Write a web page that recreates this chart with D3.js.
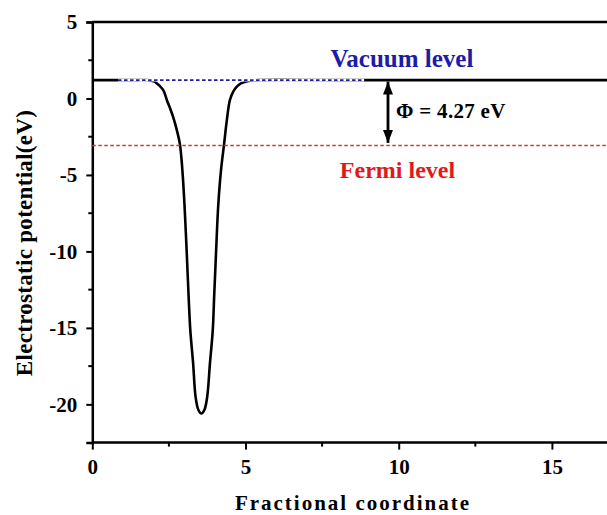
<!DOCTYPE html>
<meta charset="utf-8" />
<title>Electrostatic potential</title>
<style>
  body { margin: 0; background: #fff; }
  svg { display: block; }
</style>
<svg width="607" height="515"></svg>
<script src="https://cdn.jsdelivr.net/npm/d3@7"></script>
<script>
// potential profile
const coord = [0, 1.0, 1.5, 1.8, 2.0, 2.1, 2.2, 2.317, 2.45, 2.55, 2.64, 2.75, 2.86, 2.94, 3.01, 3.08, 3.14, 3.2, 3.29, 3.37, 3.46, 3.56, 3.66, 3.75, 3.84, 3.93, 3.98, 4.04, 4.11, 4.20, 4.30, 4.38, 4.49, 4.60, 4.71, 4.85, 5.0, 5.15, 5.4, 8, 12, 17];
const potential = [1.2, 1.2, 1.2, 1.2, 1.12, 1.0, 0.82, 0.54, -0.2, -0.7, -1.22, -2.0, -3.0, -4.7, -7.0, -10.0, -12.8, -15.2, -17.3, -19.5, -20.35, -20.6, -20.35, -19.5, -17.3, -15.2, -12.8, -10.0, -7.0, -4.7, -3.0, -1.6, -0.11, 0.45, 0.76, 0.98, 1.1, 1.16, 1.2, 1.2, 1.2, 1.2];
const xTicks = [0, 5, 10, 15];
const xMinor = [2.5, 7.5, 12.5];
const yTicks = [5, 0, -5, -10, -15, -20];
const yMinor = [2.5, -2.5, -7.5, -12.5, -17.5];
const vacuumLevel = 1.2;
const fermiLevel = -3.07;
const vacuumSpan = [0.84, 8.87];
const arrowAt = 9.65;
const workFunction = "Φ = 4.27 eV";

const svg = d3.select("svg");
const x = d3.scaleLinear().domain([0, 17]).range([92.3, 613.2]);
const y = d3.scaleLinear().domain([-22.5, 5]).range([442.6, 22]);

const serif = '"Liberation Serif", "Times New Roman", serif';

// frame top line
svg.append("line")
  .attr("x1", x(0)).attr("x2", 607)
  .attr("y1", y(5)).attr("y2", y(5))
  .attr("stroke", "#000").attr("stroke-width", 2.5);

const fmt = d => String(d);

const xAxis = svg.append("g")
  .attr("transform", `translate(0,${y(-22.5)})`)
  .call(d3.axisBottom(x).tickValues(xTicks).tickSize(7).tickPadding(9).tickFormat(fmt));
xAxis.append("g").selectAll("line").data(xMinor).join("line")
  .attr("x1", d => x(d)).attr("x2", d => x(d)).attr("y1", 0).attr("y2", 4)
  .attr("stroke", "#000").attr("stroke-width", 2);

const yAxis = svg.append("g")
  .attr("transform", `translate(${x(0)},0)`)
  .call(d3.axisLeft(y).tickValues(yTicks).tickSize(6).tickPadding(9).tickFormat(fmt));
yAxis.append("g").selectAll("line").data(yMinor).join("line")
  .attr("y1", d => y(d)).attr("y2", d => y(d)).attr("x1", 0).attr("x2", -4)
  .attr("stroke", "#000").attr("stroke-width", 2);

[xAxis, yAxis].forEach(a => {
  a.attr("font-family", serif).attr("font-weight", "bold").attr("font-size", 21);
  a.select(".domain").attr("stroke-width", 2.5);
  a.selectAll(".tick line").attr("stroke-width", 2);
  a.selectAll(".tick text").attr("fill", "#000");
});
xAxis.select(".domain").attr("d", `M${x(0)},0H607`);

// curve
const line = d3.line().x(d => x(d[0])).y(d => y(d[1])).curve(d3.curveCatmullRom.alpha(0.5));
svg.append("path")
  .datum(coord.map((c, i) => [c, potential[i]]))
  .attr("d", line)
  .attr("fill", "none")
  .attr("stroke", "#000")
  .attr("stroke-width", 2.6);

// reference levels
svg.append("line")
  .attr("x1", x(vacuumSpan[0])).attr("x2", x(vacuumSpan[1]))
  .attr("y1", y(vacuumLevel)).attr("y2", y(vacuumLevel))
  .attr("stroke", "#fff").attr("stroke-width", 2.8);
svg.append("line")
  .attr("x1", x(vacuumSpan[0])).attr("x2", x(vacuumSpan[1]))
  .attr("y1", y(vacuumLevel)).attr("y2", y(vacuumLevel))
  .attr("stroke", "#1c1ca0").attr("stroke-width", 1.8)
  .attr("stroke-dasharray", "3.5,2.5");
svg.append("line")
  .attr("x1", x(0)).attr("x2", 607)
  .attr("y1", y(fermiLevel)).attr("y2", y(fermiLevel))
  .attr("stroke", "#d03838").attr("stroke-width", 1.6)
  .attr("stroke-dasharray", "3.5,2.5");

// double arrow
const defs = svg.append("defs");
["start", "end"].forEach(k => {
  defs.append("marker")
    .attr("id", "arr-" + k)
    .attr("viewBox", "0 -5 13 10")
    .attr("refX", 13).attr("refY", 0)
    .attr("markerUnits", "userSpaceOnUse")
    .attr("markerWidth", 13).attr("markerHeight", 10)
    .attr("orient", k === "start" ? "auto-start-reverse" : "auto")
    .append("path").attr("d", "M0,-5L13,0L0,5Z").attr("fill", "#000");
});
svg.append("line")
  .attr("x1", x(arrowAt)).attr("x2", x(arrowAt))
  .attr("y1", y(vacuumLevel) + 1.5).attr("y2", y(fermiLevel) - 2.5)
  .attr("stroke", "#000").attr("stroke-width", 2.8)
  .attr("marker-start", "url(#arr-start)")
  .attr("marker-end", "url(#arr-end)");

// labels
svg.append("text")
  .attr("x", 402).attr("y", 66.5)
  .attr("text-anchor", "middle")
  .attr("font-family", serif).attr("font-weight", "bold").attr("font-size", 25)
  .attr("fill", "#1c1ca8")
  .text("Vacuum level");
svg.append("text")
  .attr("x", 397.5).attr("y", 178.3)
  .attr("text-anchor", "middle")
  .attr("font-family", serif).attr("font-weight", "bold").attr("font-size", 24)
  .attr("fill", "#e01a1a")
  .text("Fermi level");
svg.append("text")
  .attr("x", 396).attr("y", 117.5)
  .attr("font-family", serif).attr("font-weight", "bold").attr("font-size", 21)
  .attr("letter-spacing", 0.3)
  .attr("fill", "#000")
  .text(workFunction);

// axis titles
svg.append("text")
  .attr("x", 353).attr("y", 510)
  .attr("text-anchor", "middle")
  .attr("font-family", serif).attr("font-weight", "bold").attr("font-size", 21)
  .attr("letter-spacing", 2)
  .text("Fractional coordinate");
svg.append("text")
  .attr("transform", "translate(32,243) rotate(-90)")
  .attr("text-anchor", "middle")
  .attr("font-family", serif).attr("font-weight", "bold").attr("font-size", 23)
  .attr("letter-spacing", 0.3)
  .text("Electrostatic potential(eV)");
</script>
